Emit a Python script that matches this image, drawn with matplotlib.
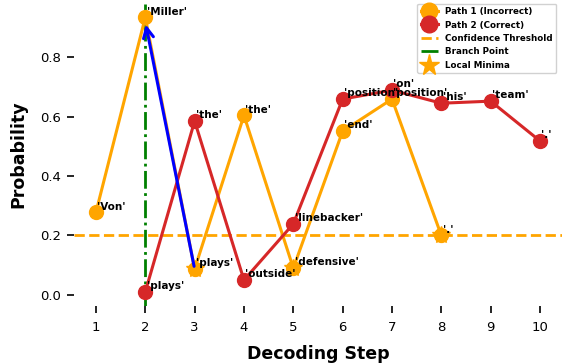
import matplotlib
matplotlib.use("Agg")
import matplotlib.pyplot as plt

# Decoding steps and token probabilities for the two paths
steps_p1 = [1, 2, 3, 4, 5, 6, 7, 8]
probs_p1 = [0.278, 0.934, 0.087, 0.604, 0.090, 0.551, 0.659, 0.200]
tokens_p1 = ["'Von'", "'Miller'", "'plays'", "'the'", "'defensive'", "'end'", "'position'", "'.'"]

steps_p2 = [2, 3, 4, 5, 6, 7, 8, 9, 10]
probs_p2 = [0.010, 0.585, 0.050, 0.239, 0.659, 0.689, 0.645, 0.652, 0.518]
tokens_p2 = ["'plays'", "'the'", "'outside'", "'linebacker'", "'position'", "'on'", "'his'", "'team'", "'.'"]

threshold = 0.2
branch_step = 2
minima_steps = [3, 5, 8]
minima_probs = [0.087, 0.090, 0.200]

orange = "#FFA500"
red = "#D62728"

fig, ax = plt.subplots(figsize=(5.63, 3.63), dpi=100)
fig.subplots_adjust(left=0.131, right=0.9986, top=0.990, bottom=0.158)

ax.plot(steps_p1, probs_p1, color=orange, lw=2.2, marker="o", ms=10, zorder=3,
        label="Path 1 (Incorrect)")
ax.plot(steps_p2, probs_p2, color=red, lw=2.2, marker="o", ms=10, zorder=3,
        label="Path 2 (Correct)")
ax.axhline(threshold, color=orange, lw=2, ls="--", zorder=1, label="Confidence Threshold")
ax.axvline(branch_step, color="green", lw=2, ls="-.", zorder=2, label="Branch Point")
ax.plot(minima_steps, minima_probs, ls="none", marker="*", ms=13, color=orange,
        zorder=4, label="Local Minima")

for x, y, t in zip(steps_p1, probs_p1, tokens_p1):
    ax.annotate(t, (x, y), xytext=(1, 2), textcoords="offset points",
                fontsize=7.5, fontweight="bold", ha="left", va="baseline", zorder=5)
for x, y, t in zip(steps_p2, probs_p2, tokens_p2):
    ax.annotate(t, (x, y), xytext=(1, 2), textcoords="offset points",
                fontsize=7.5, fontweight="bold", ha="left", va="baseline", zorder=5)

# Backtracking arrow from the first local minimum to the branch point
ax.annotate("", xy=(steps_p1[1], probs_p1[1] - 0.015), xytext=(steps_p1[2], probs_p1[2]),
            arrowprops=dict(arrowstyle="->", color="blue", lw=2.2, mutation_scale=18),
            zorder=4)

ax.set_xticks(range(1, 11))
ax.set_yticks([0.0, 0.2, 0.4, 0.6, 0.8])
ax.tick_params(axis="both", labelsize=9.5, length=5, width=1.2, pad=4)
ax.tick_params(axis="x", pad=6)
for s in ax.spines.values():
    s.set_visible(False)

ax.set_xlabel("Decoding Step", fontsize=12.5, fontweight="bold", labelpad=8)
ax.set_ylabel("Probability", fontsize=12.5, fontweight="bold", labelpad=9)

leg = ax.legend(loc="upper right", bbox_to_anchor=(0.988, 1.0),
                prop={"size": 6.3, "weight": "bold"},
                markerscale=1.2, handlelength=2, borderaxespad=0.0,
                framealpha=0.9, fancybox=True)

fig.savefig("out.png", dpi=100)
